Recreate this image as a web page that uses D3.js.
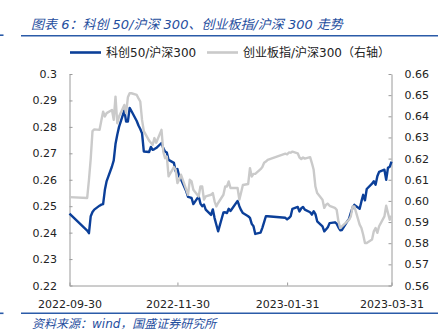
<!DOCTYPE html>
<html>
<head>
<meta charset="utf-8">
<script src="https://cdn.jsdelivr.net/npm/d3@7/dist/d3.min.js"></script>
<style>
  html, body { margin: 0; padding: 0; background: #fff; }
  svg { display: block; }
  text { font-family: "DejaVu Sans", "Noto Sans CJK SC", sans-serif; }
</style>
</head>
<body>
<svg id="chart" width="445" height="336"></svg>
<script>
// Trading days, 2022-09-30 .. 2023-03-31
const dates = [
  "2022-09-30","2022-10-10","2022-10-11","2022-10-12","2022-10-13","2022-10-14",
  "2022-10-17","2022-10-18","2022-10-19","2022-10-20","2022-10-21",
  "2022-10-24","2022-10-25","2022-10-26","2022-10-27","2022-10-28",
  "2022-10-31","2022-11-01","2022-11-02","2022-11-03","2022-11-04",
  "2022-11-07","2022-11-08","2022-11-09","2022-11-10","2022-11-11",
  "2022-11-14","2022-11-15","2022-11-16","2022-11-17","2022-11-18",
  "2022-11-21","2022-11-22","2022-11-23","2022-11-24","2022-11-25",
  "2022-11-28","2022-11-29","2022-11-30","2022-12-01","2022-12-02",
  "2022-12-05","2022-12-06","2022-12-07","2022-12-08","2022-12-09",
  "2022-12-12","2022-12-13","2022-12-14","2022-12-15","2022-12-16",
  "2022-12-19","2022-12-20","2022-12-21","2022-12-22","2022-12-23",
  "2022-12-26","2022-12-27","2022-12-28","2022-12-29","2022-12-30",
  "2023-01-03","2023-01-04","2023-01-05","2023-01-06",
  "2023-01-09","2023-01-10","2023-01-11","2023-01-12","2023-01-13",
  "2023-01-16","2023-01-17","2023-01-18","2023-01-19","2023-01-20",
  "2023-01-30","2023-01-31","2023-02-01","2023-02-02","2023-02-03",
  "2023-02-06","2023-02-07","2023-02-08","2023-02-09","2023-02-10",
  "2023-02-13","2023-02-14","2023-02-15","2023-02-16","2023-02-17",
  "2023-02-20","2023-02-21","2023-02-22","2023-02-23","2023-02-24",
  "2023-02-27","2023-02-28","2023-03-01","2023-03-02","2023-03-03",
  "2023-03-06","2023-03-07","2023-03-08","2023-03-09","2023-03-10",
  "2023-03-13","2023-03-14","2023-03-15","2023-03-16","2023-03-17",
  "2023-03-20","2023-03-21","2023-03-22","2023-03-23","2023-03-24",
  "2023-03-27","2023-03-28","2023-03-29","2023-03-30","2023-03-31"
];

// 科创50 / 沪深300 (left axis)
const kc50Ratio = [
  0.2472,0.2408,0.2398,0.2462,0.2478,0.2487,
  0.2502,0.2506,0.2508,0.2562,0.2595,
  0.2650,0.2673,0.2735,0.2770,0.2800,
  0.2862,0.2820,0.2820,0.2872,0.2860,
  0.2822,0.2805,0.2792,0.2776,0.2707,
  0.2705,0.2724,0.2713,0.2716,0.2720,
  0.2739,0.2720,0.2707,0.2703,0.2675,
  0.2664,0.2632,0.2641,0.2613,0.2602,
  0.2556,0.2535,0.2533,0.2531,0.2508,
  0.2537,0.2510,0.2500,0.2506,0.2487,
  0.2467,0.2488,0.2455,0.2430,0.2405,
  0.2476,0.2477,0.2474,0.2490,0.2482,
  0.2520,0.2500,0.2485,0.2474,
  0.2462,0.2456,0.2433,0.2424,0.2395,
  0.2400,0.2418,0.2440,0.2462,0.2462,
  0.2456,0.2450,0.2455,0.2462,0.2490,
  0.2497,0.2480,0.2492,0.2497,0.2487,
  0.2477,0.2468,0.2481,0.2470,0.2443,
  0.2424,0.2405,0.2412,0.2420,0.2436,
  0.2439,0.2434,0.2420,0.2409,0.2410,
  0.2443,0.2452,0.2475,0.2495,0.2505,
  0.2490,0.2518,0.2543,0.2522,0.2565,
  0.2585,0.2594,0.2581,0.2613,0.2630,
  0.2638,0.2600,0.2645,0.2649,0.2669
];

// 创业板指 / 沪深300 (right axis)
const cybRatio = [
  0.6018,0.6014,0.6100,0.6200,0.6330,0.6338,
  0.6336,0.6380,0.6422,0.6399,0.6415,
  0.6430,0.6383,0.6493,0.6367,0.6399,
  0.6454,0.6415,0.6490,0.6509,0.6509,
  0.6501,0.6485,0.6470,0.6383,0.6330,
  0.6285,0.6275,0.6265,0.6297,0.6275,
  0.6336,0.6233,0.6202,0.6210,0.6116,
  0.6160,0.6147,0.6084,0.6100,0.6124,
  0.6053,0.6029,0.6100,0.6092,0.6053,
  0.6021,0.6068,0.6068,0.6006,0.6021,
  0.6029,0.6037,0.5998,0.5974,0.5990,
  0.6029,0.6068,0.6068,0.6092,0.6061,
  0.6061,0.6006,0.6040,0.6075,
  0.6080,0.6155,0.6115,0.6128,0.6128,
  0.6150,0.6160,0.6180,0.6186,0.6194,
  0.6223,0.6220,0.6229,0.6228,0.6233,
  0.6225,0.6205,0.6198,0.6205,0.6200,
  0.6207,0.6179,0.6147,0.6068,0.6037,
  0.6006,0.5967,0.5982,0.5987,0.5977,
  0.5967,0.5958,0.5903,0.5872,0.5880,
  0.5903,0.5911,0.5927,0.5974,0.5974,
  0.5888,0.5872,0.5840,0.5801,0.5801,
  0.5817,0.5856,0.5872,0.5849,0.5880,
  0.5927,0.5977,0.5943,0.5911,0.5930
];

const leftTicks = [0.22, 0.23, 0.24, 0.25, 0.26, 0.27, 0.28, 0.29, 0.30];
const leftTickLabels = ["0.22","0.23","0.24","0.25","0.26","0.27","0.28","0.29","0.3"];
const rightTicks = [0.56, 0.57, 0.58, 0.59, 0.60, 0.61, 0.62, 0.63, 0.64, 0.65, 0.66];
const xTickDates = ["2022-09-30","2022-11-30","2023-01-31","2023-03-31"];

const seriesNames = ["科创50/沪深300", "创业板指/沪深300（右轴）"];
const titleText = "图表 6：科创 50/沪深 300、创业板指/沪深 300 走势";
const sourceText = "资料来源：wind，国盛证券研究所";

const parse = d3.timeParse("%Y-%m-%d");
const fmtDate = d3.timeFormat("%Y-%m-%d");

const svg = d3.select("#chart");

const plot = { left: 69.5, right: 391.5, top: 74, bottom: 285.5 };

const x = d3.scaleTime()
  .domain([parse("2022-09-30"), parse("2023-03-31")])
  .range([plot.left, plot.right]);
const yL = d3.scaleLinear().domain([0.22, 0.30]).range([plot.bottom, plot.top]);
const yR = d3.scaleLinear().domain([0.56, 0.66]).range([plot.bottom, plot.top]);

const brand = "#2B5BA8";
const blue = "#0B3F99";
const grey = "#CACACA";
const axisGrey = "#9A9A9A";

// Header
svg.append("text")
  .attr("x", 31).attr("y", 28.5)
  .attr("font-size", 13).attr("font-style", "italic")
  .attr("fill", "#1F4E9E")
  .text(titleText);
svg.append("line").attr("x1", 21).attr("x2", 438).attr("y1", 35.7).attr("y2", 35.7)
  .attr("stroke", brand).attr("stroke-width", 1.6);
svg.append("line").attr("x1", 0).attr("x2", 3.5).attr("y1", 35.2).attr("y2", 35.2)
  .attr("stroke", brand).attr("stroke-width", 1.6);

// Legend
const legend = svg.append("g");
const legendItems = [
  { name: seriesNames[0], color: blue, x: 70 },
  { name: seriesNames[1], color: grey, x: 207 }
];
legendItems.forEach(it => {
  legend.append("line").attr("x1", it.x).attr("x2", it.x + 31)
    .attr("y1", 52.5).attr("y2", 52.5)
    .attr("stroke", it.color).attr("stroke-width", 2.6);
  legend.append("text").attr("x", it.x + 36).attr("y", 57)
    .attr("font-size", 12).attr("fill", "#222").text(it.name);
});

// Axes
const axisL = svg.append("g").attr("transform", `translate(${plot.left},0)`)
  .call(d3.axisLeft(yL).tickValues(leftTicks)
    .tickFormat((d, i) => leftTickLabels[i])
    .tickSizeInner(-3).tickSizeOuter(0).tickPadding(12.5));
const axisR = svg.append("g").attr("transform", `translate(${plot.right},0)`)
  .call(d3.axisRight(yR).tickValues(rightTicks)
    .tickFormat(d3.format(".2f"))
    .tickSizeInner(-3).tickSizeOuter(0).tickPadding(13));
const axisB = svg.append("g").attr("transform", `translate(0,${plot.bottom})`)
  .call(d3.axisBottom(x).tickValues(xTickDates.map(parse))
    .tickFormat(fmtDate)
    .tickSizeInner(-3).tickSizeOuter(0).tickPadding(14.5));

[axisL, axisR, axisB].forEach(g => {
  g.select(".domain").attr("stroke", axisGrey).attr("stroke-width", 1);
  g.selectAll(".tick line").attr("stroke", axisGrey);
  g.selectAll(".tick text").attr("font-size", 11).attr("fill", "#222")
    .attr("font-family", "DejaVu Sans");
});

// Series
const rows = dates.map((d, i) => ({ date: parse(d), kc: kc50Ratio[i], cy: cybRatio[i] }));

svg.append("path").datum(rows)
  .attr("fill", "none").attr("stroke", blue).attr("stroke-width", 2.4)
  .attr("stroke-linejoin", "round")
  .attr("d", d3.line().x(d => x(d.date)).y(d => yL(d.kc)));

svg.append("path").datum(rows)
  .attr("fill", "none").attr("stroke", grey).attr("stroke-width", 2.4)
  .attr("stroke-linejoin", "round")
  .attr("d", d3.line().x(d => x(d.date)).y(d => yR(d.cy)));

// Footer
svg.append("line").attr("x1", 21).attr("x2", 438).attr("y1", 313.3).attr("y2", 313.3)
  .attr("stroke", brand).attr("stroke-width", 1.6);
svg.append("line").attr("x1", 0).attr("x2", 3.5).attr("y1", 313.3).attr("y2", 313.3)
  .attr("stroke", brand).attr("stroke-width", 1.6);
svg.append("text")
  .attr("x", 32).attr("y", 327.5)
  .attr("font-size", 12).attr("font-style", "italic")
  .attr("fill", "#1F4E9E")
  .text(sourceText);
</script>
</body>
</html>
